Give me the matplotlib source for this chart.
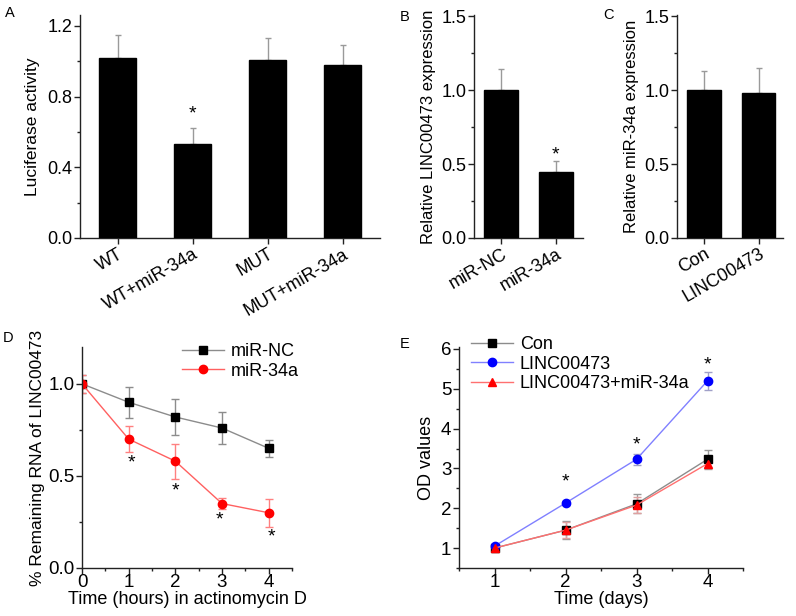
import matplotlib
matplotlib.use("Agg")
import matplotlib.pyplot as plt
from matplotlib.ticker import MultipleLocator, FormatStrFormatter, FixedLocator

plt.rcParams['font.family'] = ['Liberation Sans', 'DejaVu Sans']
plt.rcParams['font.size'] = 13

# ---------------- data ----------------
a_labels = ["WT", "WT+miR-34a", "MUT", "MUT+miR-34a"]
a_values = [1.02, 0.53, 1.01, 0.98]
a_errors = [0.13, 0.09, 0.12, 0.11]

b_labels = ["miR-NC", "miR-34a"]
b_values = [1.00, 0.45]
b_errors = [0.145, 0.07]

c_labels = ["Con", "LINC00473"]
c_values = [1.00, 0.98]
c_errors = [0.13, 0.17]

d_time = [0, 1, 2, 3, 4]
d_nc = [1.00, 0.90, 0.82, 0.76, 0.65]
d_nc_err = [0.05, 0.085, 0.10, 0.085, 0.045]
d_34a = [1.00, 0.70, 0.58, 0.35, 0.30]
d_34a_err = [0.05, 0.072, 0.096, 0.03, 0.075]
d_star_x = [1.05, 2.0, 2.95, 4.05]
d_star_y = [0.57, 0.42, 0.26, 0.17]

e_days = [1, 2, 3, 4]
e_con = [1.00, 1.45, 2.11, 3.23]
e_con_err = [0.08, 0.22, 0.24, 0.24]
e_linc = [1.05, 2.13, 3.23, 5.20]
e_linc_err = [0.06, 0.06, 0.14, 0.22]
e_mir = [1.00, 1.45, 2.08, 3.12]
e_mir_err = [0.10, 0.20, 0.20, 0.12]
e_star_x = [2, 3, 4]
e_star_y = [2.65, 3.60, 5.59]

W, H = 796, 616
fig = plt.figure(figsize=(W / 100, H / 100), dpi=100)


def add_ax(x0, y0, x1, y1):
    return fig.add_axes([x0 / W, 1 - y1 / H, (x1 - x0) / W, (y1 - y0) / H])


def style(ax, size):
    for s in ("top", "right"):
        ax.spines[s].set_visible(False)
    for s in ("left", "bottom"):
        ax.spines[s].set_linewidth(1.0)
        ax.spines[s].set_color("#222222")
    ax.tick_params(which="major", direction="out", length=4, width=1, color="#222222", labelsize=size, pad=1.5)
    ax.tick_params(which="minor", direction="out", length=2.5, width=1, color="#222222")


def bar_panel(ax, labels, values, errors, xlim, ylim, major, minor, star=None):
    x = list(range(len(labels)))
    ax.bar(x, values, width=0.5 if len(labels) > 2 else 0.62, color="black", edgecolor="black", zorder=3)
    ax.errorbar(x, values, yerr=[[0] * len(values), errors], fmt="none", ecolor="#9a9a9a",
                elinewidth=1.0, capsize=2.5, capthick=1.0, zorder=2)
    ax.set_xlim(*xlim)
    ax.set_ylim(*ylim)
    ax.yaxis.set_major_locator(MultipleLocator(major))
    ax.yaxis.set_minor_locator(MultipleLocator(minor))
    ax.yaxis.set_major_formatter(FormatStrFormatter("%.1f"))
    ax.set_xticks(x)
    style(ax, 13)
    ax.set_xticklabels(labels, rotation=30, ha="right", rotation_mode="anchor", fontsize=13)
    if star is not None:
        ax.text(star[0], star[1], "*", ha="center", va="center", fontsize=14)


# Panel A
axA = add_ax(80, 15, 380, 238)
bar_panel(axA, a_labels, a_values, a_errors, (-0.5, 3.5), (0, 1.262), 0.4, 0.2, star=(1, 0.70))
axA.set_ylabel("Luciferase activity", fontsize=12.5, labelpad=5)

# Panel B
axB = add_ax(474, 15, 583, 238)
bar_panel(axB, b_labels, b_values, b_errors, (-0.5, 1.5), (0, 1.51), 0.5, 0.25, star=(1, 0.56))
axB.set_ylabel("Relative LINC00473 expression", fontsize=12, labelpad=4)

# Panel C
axC = add_ax(677, 15, 783, 238)
bar_panel(axC, c_labels, c_values, c_errors, (-0.5, 1.45), (0, 1.51), 0.5, 0.25)
axC.set_ylabel("Relative miR-34a expression", fontsize=12, labelpad=4)

# Panel D
axD = add_ax(82, 347, 292, 568)
d1 = axD.errorbar(d_time, d_nc, yerr=d_nc_err, color="#8c8c8c", ecolor="#8c8c8c", lw=1.0,
                  elinewidth=1.0, capsize=3, marker="s", ms=5.5, mfc="black", mec="black", label="miR-NC")
d2 = axD.errorbar(d_time, d_34a, yerr=d_34a_err, color="#ff6060", ecolor="#ff8080", lw=1.0,
                  elinewidth=1.0, capsize=3, marker="o", ms=6, mfc="#ff0000", mec="#ff0000", label="miR-34a")
for sx, sy in zip(d_star_x, d_star_y):
    axD.text(sx, sy, "*", ha="center", va="center", fontsize=14)
axD.set_xlim(0, 4.5)
axD.set_ylim(0, 1.2)
axD.xaxis.set_major_locator(FixedLocator([0, 1, 2, 3, 4]))
axD.xaxis.set_minor_locator(MultipleLocator(0.5))
axD.yaxis.set_major_locator(MultipleLocator(0.5))
axD.yaxis.set_minor_locator(MultipleLocator(0.25))
axD.yaxis.set_major_formatter(FormatStrFormatter("%.1f"))
style(axD, 13.5)
axD.tick_params(axis="x", pad=0)
axD.set_xlabel("Time (hours) in actinomycin D", fontsize=13, labelpad=0)
axD.set_ylabel("% Remaining RNA of LINC00473", fontsize=12.5, labelpad=2)
axD.legend(handles=[d1[0], d2[0]], labels=["miR-NC", "miR-34a"],
           loc="upper left", bbox_to_anchor=(182 / W, 1 - 343 / H), bbox_transform=fig.transFigure,
           frameon=False, fontsize=13, borderpad=0, borderaxespad=0, handlelength=2.3,
           handletextpad=0.4, labelspacing=0.15)

# Panel E
axE = add_ax(459, 347, 743, 568)
e1 = axE.errorbar(e_days, e_con, yerr=e_con_err, color="#8c8c8c", ecolor="#9a9a9a", lw=1.0,
                  elinewidth=1.0, capsize=3, marker="s", ms=5.5, mfc="black", mec="black", label="Con")
e2 = axE.errorbar(e_days, e_linc, yerr=e_linc_err, color="#8080ff", ecolor="#a0a0c8", lw=1.0,
                  elinewidth=1.0, capsize=3, marker="o", ms=6, mfc="#0000ff", mec="#0000ff", label="LINC00473")
e3 = axE.errorbar(e_days, e_mir, yerr=e_mir_err, color="#ff7070", ecolor="#e0a0a0", lw=1.0,
                  elinewidth=1.0, capsize=3, marker="^", ms=6, mfc="#ff0000", mec="#ff0000",
                  label="LINC00473+miR-34a")
for sx, sy in zip(e_star_x, e_star_y):
    axE.text(sx, sy, "*", ha="center", va="center", fontsize=14)
axE.set_xlim(0.5, 4.5)
axE.set_ylim(0.5, 6.05)
axE.xaxis.set_major_locator(FixedLocator([1, 2, 3, 4]))
axE.xaxis.set_minor_locator(MultipleLocator(0.5))
axE.yaxis.set_major_locator(MultipleLocator(1))
axE.yaxis.set_minor_locator(MultipleLocator(0.5))
style(axE, 13.5)
axE.tick_params(axis="x", pad=0)
axE.set_xlabel("Time (days)", fontsize=13, labelpad=0)
axE.set_ylabel("OD values", fontsize=13, labelpad=4)
axE.legend(handles=[e1[0], e2[0], e3[0]], labels=["Con", "LINC00473", "LINC00473+miR-34a"],
           loc="upper left", bbox_to_anchor=(471 / W, 1 - 336 / H), bbox_transform=fig.transFigure,
           frameon=False, fontsize=13, borderpad=0, borderaxespad=0, handlelength=2.3,
           handletextpad=0.4, labelspacing=0.15)

# panel letters
for letter, px, py in [("A", 5, 6), ("B", 400, 10), ("C", 603, 8), ("D", 3, 331), ("E", 400, 337)]:
    fig.text(px / W, 1 - py / H, letter, ha="left", va="top", fontsize=10.5)

fig.savefig("out.png", dpi=100)
